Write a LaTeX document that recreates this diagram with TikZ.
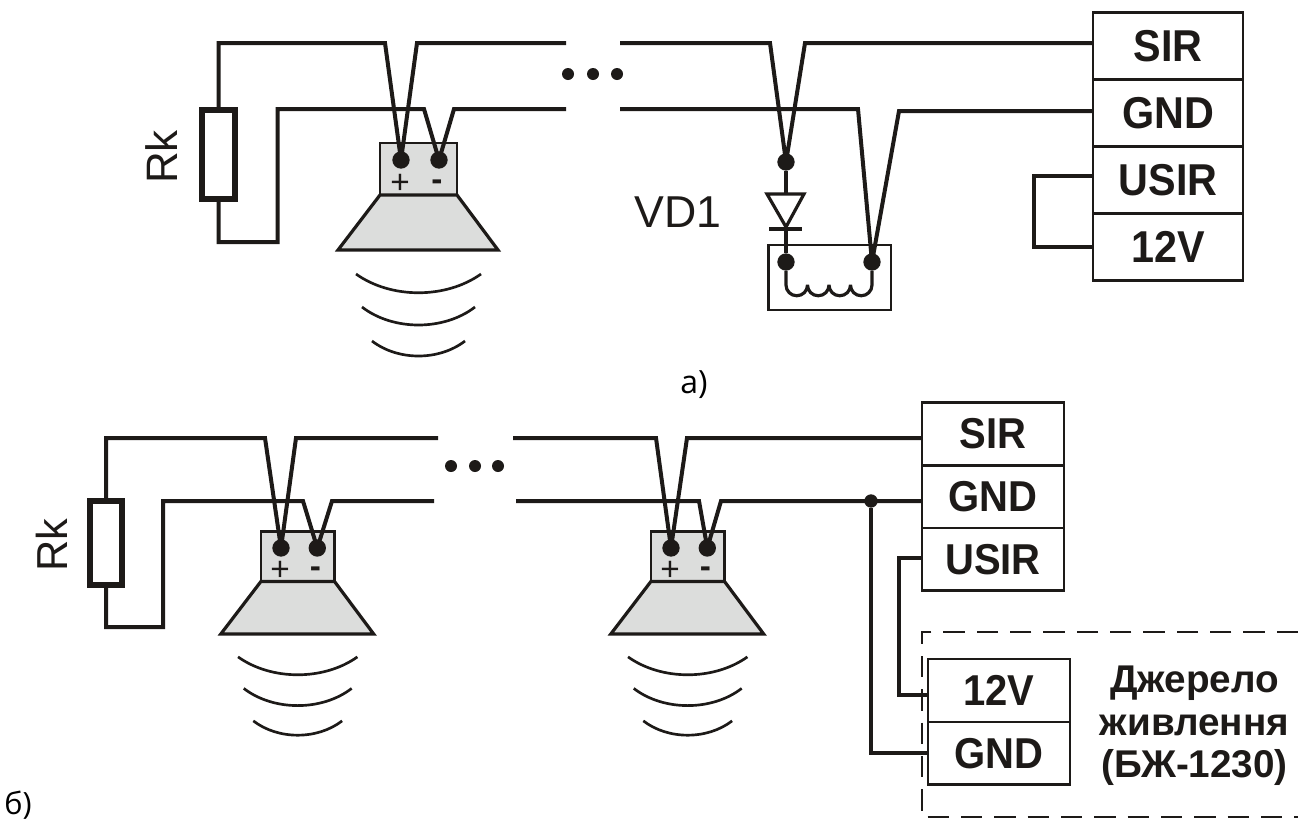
\documentclass[tikz,border=0pt]{standalone}
\usepackage{fontspec}
\setmainfont{Liberation Sans}
\newfontfamily\capfont{Open Sans}
\usetikzlibrary{positioning, calc}
\definecolor{ink}{HTML}{1D1A18}
\definecolor{horn}{HTML}{DCDDDC}
\newcommand{\tallbox}[1]{\scalebox{1}[1.08]{#1}}
\tikzset{
  wire/.style={draw=ink, line width=3pt, miter limit=3},
  thinwire/.style={draw=ink, line width=2.4pt, miter limit=3},
  dashbox/.style={draw=ink, line width=1.5pt, dash pattern=on 16pt off 9pt},
  term/.style={circle, fill=ink, inner sep=0pt, minimum size=13pt},
  junction/.style={circle, fill=ink, inner sep=0pt, minimum size=10pt},
  gapdot/.style={circle, fill=ink, inner sep=0pt, minimum size=9pt},
  resistor/.style={draw=ink, line width=4.5pt, inner sep=0pt, minimum width=24.75pt, minimum height=66.75pt},
  cell/.style={draw=ink, line width=2.2pt, inner sep=0pt, outer sep=0pt, font=\fontsize{31}{31}\selectfont\bfseries},
  cella/.style={cell, minimum width=112.5pt, minimum height=50.2pt},
  cellb/.style={cell, minimum width=106.5pt, minimum height=47pt, font=\fontsize{30}{30}\selectfont\bfseries},
  speaker/.pic={
    \fill[horn] (-21,-17) rectangle (56,35);
    \draw[ink, line width=2pt] (-21,35) -- (-21,-17) -- (56,-17) -- (56,35);
    \draw[thinwire, fill=horn] (-21,35) -- (56,35) -- (97,90) -- (-63,90) -- cycle;
    \draw[ink, line width=2pt] (-45,114) .. controls (-10,139) and (45,139) .. (80,114);
    \draw[ink, line width=2pt] (-39,147) .. controls (-8,171) and (43,171) .. (74,147);
    \draw[ink, line width=2pt] (-29,181) .. controls (-3,201) and (38,201) .. (64,181);
    \node[term] (plus) at (0,0) {};
    \node[term] (minus) at (38,0) {};
    \node[ink, font=\fontsize{25}{25}\selectfont, inner sep=0pt] (pluslabel) at (-1,24) {+};
    \node[ink, font=\fontsize{25}{25}\selectfont\bfseries, inner sep=0pt] (minuslabel) at (36,25) {-};
  }
}

\begin{document}
\begin{tikzpicture}[x=0.75pt, y=-0.75pt]
  \useasboundingbox (0,0) rectangle (1298,822);

  % upper circuit
  \pic (sa) at (401,160) {speaker};
  \node[resistor] (rka) at (218.5,154.5) {};
  \node[rotate=90, ink, font=\fontsize{33}{33}\selectfont, inner sep=0pt] (rklabela) at (162,157) {Rk};
  \node[gapdot] (dota1) at (568,74) {};
  \node[gapdot] (dota2) at (593,74) {};
  \node[gapdot] (dota3) at (617,74) {};
  \node[cella, ink] (sira) at (1168,45.8) {\tallbox{SIR}};
  \node[cella, ink, below=0pt of sira] (gnda) {\tallbox{GND}};
  \node[cella, ink, below=0pt of gnda] (usira) {\tallbox{USIR}};
  \node[cella, ink, below=0pt of usira] (vdca) {\tallbox{12V}};
  \coordinate (enda1) at (566,43);
  \coordinate (enda2) at (566,109);
  \coordinate (starta1) at (620,43);
  \coordinate (starta2) at (620,109);
  \coordinate (cornera1) at (805,43);
  \coordinate (cornera2) at (899,111);
  \draw[wire] (rka.north) -- (218.5,43) -- (385,43) -- (saplus.center) -- (417,43) -- (enda1);
  \draw[wire] (rka.south) -- (218.5,242) -- (277.5,242) -- (277.5,109) -- (424,109) -- (saminus.center) -- (454,109) -- (enda2);
  % relay with diode
  \node[draw=ink, line width=2pt, minimum width=92pt, minimum height=48.75pt, inner sep=0pt] (relay) at (829.5,277.5) {};
  \node[term] (tdiode) at (786,162) {};
  \node[term] (tcoila) at (786,262) {};
  \node[term] (tcoilb) at (872,262) {};
  \node[ink, font=\fontsize{33.5}{33.5}\selectfont, inner sep=0pt] (vdlabel) at (678,212) {VD1};
  \draw[thinwire] (tdiode) -- (tcoila);
  \draw[thinwire, fill=white] (767,194) -- (804,194) -- (786,227) -- cycle;
  \draw[thinwire] (769,229) -- (802,229);
  \draw[thinwire] (tcoila) -- (786,285)
    arc[start angle=180, end angle=360, radius=8.06pt]
    arc[start angle=180, end angle=360, radius=8.06pt]
    arc[start angle=180, end angle=360, radius=8.06pt]
    arc[start angle=180, end angle=360, radius=8.06pt]
    -- (tcoilb);
  \draw[wire] (starta1) -- (770,43) -- (tdiode.center) -- (cornera1) -- (cornera1 -| sira.west);
  \draw[wire] (starta2) -- (858,109) -- (tcoilb.center) -- (cornera2) -- (cornera2 -| gnda.west);
  \draw[wire] (usira.west |- 0,176) -- (1034,176) -- (1034,247) -- (vdca.west |- 0,247);
  \node[font=\capfont\fontsize{24}{24}\selectfont, inner sep=0pt] (capa) at (694,385) {а)};

  % lower circuit
  \pic[scale=.955] (sb) at (281,548) {speaker};
  \pic[scale=.955] (sc) at (671,548) {speaker};
  \node[resistor, minimum width=24pt, minimum height=63pt] (rkb) at (106,543) {};
  \node[rotate=90, ink, font=\fontsize{32.5}{32.5}\selectfont, inner sep=0pt] (rklabelb) at (52,545) {Rk};
  \node[gapdot] (dotb1) at (451,466) {};
  \node[gapdot] (dotb2) at (475,466) {};
  \node[gapdot] (dotb3) at (498,466) {};
  \node[cellb, ink] (sirb) at (993,434) {\tallbox{SIR}};
  \node[cellb, ink, below=0pt of sirb] (gndb) {\tallbox{GND}};
  \node[cellb, ink, below=0pt of gndb] (usirb) {\tallbox{USIR}};
  \coordinate (endb1) at (438,438);
  \coordinate (endb2) at (434,501);
  \coordinate (startb1) at (513,438);
  \coordinate (startb2) at (516,501);
  \coordinate (cornerb1) at (687,438);
  \coordinate (cornerb2) at (721,501);
  \draw[wire] (rkb.north) -- (106,438) -- (265,438) -- (sbplus.center) -- (296,438) -- (endb1);
  \draw[wire] (rkb.south) -- (106,627) -- (163,627) -- (163,501) -- (303,501) -- (sbminus.center) -- (332,501) -- (endb2);
  \draw[wire] (startb1) -- (656,438) -- (scplus.center) -- (cornerb1) -- (cornerb1 -| sirb.west);
  \draw[wire] (startb2) -- (699,501) -- (scminus.center) -- (cornerb2) -- (cornerb2 -| gndb.west);
  % power supply
  \coordinate (dashtop) at (1298,632);
  \coordinate (dashbot) at (1298,817);
  \draw[dashbox] (dashtop) -- (922,632) -- (922,817) -- (dashbot);
  \node[cellb, ink, minimum width=106.5pt, minimum height=47.25pt] (vdcb) at (999,690.5) {\tallbox{12V}};
  \node[cellb, ink, below=0pt of vdcb] (gndc) {\tallbox{GND}};
  \node[junction] (tap) at (871,501) {};
  \draw[wire] (usirb.west |- 0,558) -- (899,558) -- (899,695) -- (vdcb.west |- 0,695);
  \draw[wire] (tap) -- (871,753) -- (gndc.west |- 0,753);
  \node[ink, align=center, inner sep=0pt, font=\fontsize{29}{32}\selectfont\bfseries] (psu) at (1194.5,726) {Джерело\\живлення\\(БЖ-1230)};
  \node[font=\capfont\fontsize{23}{23}\selectfont, inner sep=0pt] (capb) at (18,805) {б)};
\end{tikzpicture}
\end{document}
